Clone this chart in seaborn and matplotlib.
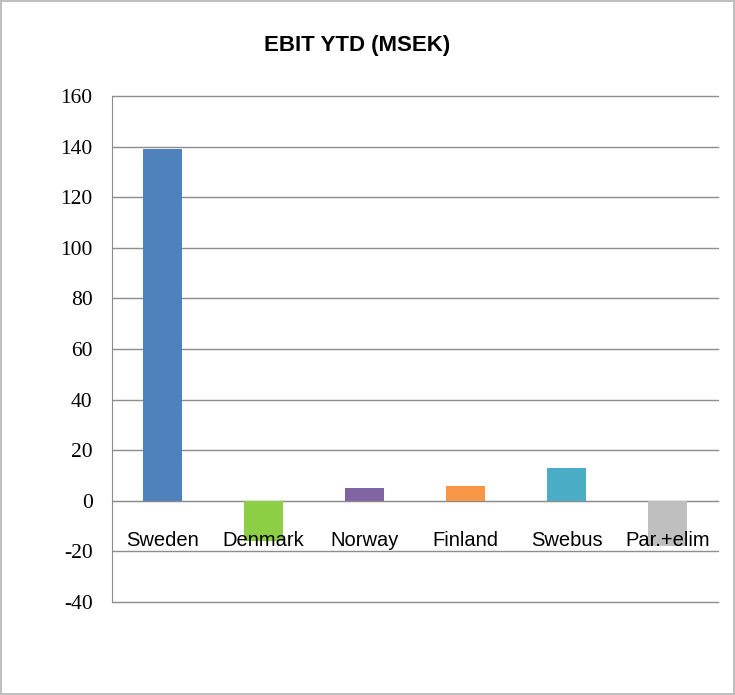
import seaborn as sns
import matplotlib.pyplot as plt
import pandas as pd
from matplotlib.ticker import FixedLocator

regions = ['Sweden', 'Denmark', 'Norway', 'Finland', 'Swebus', 'Par.+elim']
ebit = [139, -16, 5, 6, 13, -18]
colors = ['#4F81BD', '#8DCF44', '#8064A2', '#F79646', '#4BACC6', '#BFBFBF']
yticks = list(range(-40, 161, 20))

df = pd.DataFrame({'region': regions, 'ebit': ebit})

sns.set_style('white')
plt.rcParams['font.family'] = ['Liberation Sans', 'DejaVu Sans']
plt.rcParams['axes.unicode_minus'] = False
plt.rcParams['text.color'] = 'black'
plt.rcParams['xtick.color'] = 'black'
plt.rcParams['ytick.color'] = 'black'

fig = plt.figure(figsize=(7.35, 6.95), dpi=100)
fig.patch.set_edgecolor('#BFBFBF')
fig.patch.set_linewidth(1.5)
ax = fig.add_axes([0.1524, 0.1338, 0.8245, 0.7281])

sns.barplot(data=df, x='region', y='ebit', hue='region', palette=colors,
            width=0.386, saturation=1, linewidth=0, legend=False, ax=ax, zorder=3)

ax.set_ylim(-40, 160)
ax.set_xlim(-0.5, len(regions) - 0.5)
ax.set_yticks(yticks)
ax.yaxis.grid(True, color='#8C8C8C', linewidth=1, zorder=0)
for gl in ax.get_ygridlines():
    gl.set_clip_on(False)
ax.tick_params(axis='y', length=5, width=1, color='#8C8C8C', pad=9)
for lbl in ax.get_yticklabels():
    lbl.set_fontfamily(['Liberation Serif', 'DejaVu Serif'])
    lbl.set_fontsize(15.5)

# x axis sits on zero, labels under it, tick marks between categories
ax.spines['bottom'].set_position(('data', 0))
ax.spines['bottom'].set_color('#8C8C8C')
ax.spines['left'].set_color('#8C8C8C')
ax.spines['top'].set_visible(False)
ax.spines['right'].set_visible(False)
ax.xaxis.set_minor_locator(FixedLocator([i + 0.5 for i in range(len(regions))]))
ax.tick_params(axis='x', which='major', length=0, labelsize=14.5, pad=22)
ax.tick_params(axis='x', which='minor', length=5, width=1, color='#8C8C8C', direction='out')
ax.xaxis.set_zorder(5)
ax.set_xlabel('')
ax.set_ylabel('')

fig.text(0.486, 0.935, 'EBIT YTD (MSEK)', ha='center', va='center',
         fontsize=16, fontweight='bold')

fig.savefig('out.png', dpi=100)
